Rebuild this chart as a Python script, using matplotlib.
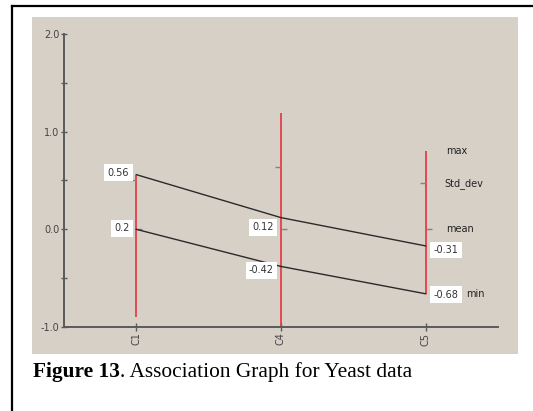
import matplotlib
matplotlib.use('Agg')
import matplotlib.pyplot as plt
from matplotlib.patches import Rectangle
from matplotlib.lines import Line2D

# ---- data ----
categories = ['C1', 'C4', 'C5']
upper_values = [0.56, 0.12, -0.17]
upper_labels = ['0.56', '0.12', '-0.31']
lower_values = [0.0, -0.38, -0.66]
lower_labels = ['0.2', '-0.42', '-0.68']
range_max = [0.56, 1.19, 0.80]
range_min = [-0.90, -1.0, -0.66]
std_marks = [0.50, 0.64, 0.47]
mean_marks = [0.0, 0.0, 0.0]
legend_labels = ['max', 'Std_dev', 'mean', 'min']
yticks = [-1.0, 0.0, 1.0, 2.0]
ytick_labels = ['-1.0', '0.0', '1.0', '2.0']
minor_yticks = [-0.5, 0.5, 1.5]
caption_bold = 'Figure 13'
caption_rest = '. Association Graph for Yeast data'

# ---- layout helpers (pixels) ----
W, H = 533, 411
fig = plt.figure(figsize=(W / 100, H / 100), dpi=100)
fig.patch.set_facecolor('white')


def fx(px):
    return px / W


def fy(py):
    return 1 - py / H


GRAY = '#d6d0c7'
RED = '#e8323f'
AX = '#5a5a5a'

# panel background
fig.add_artist(Rectangle((fx(32), fy(354)), (518 - 32) / W, (354 - 17) / H,
                         transform=fig.transFigure, facecolor=GRAY,
                         edgecolor='none', zorder=0))
# outer border (left and top)
fig.add_artist(Line2D([fx(12), fx(12)], [fy(6), 0], transform=fig.transFigure,
                      color='black', lw=1.6))
fig.add_artist(Line2D([fx(12), 1], [fy(6), fy(6)], transform=fig.transFigure,
                      color='black', lw=1.6))

ax = fig.add_axes([fx(64), fy(327), (498 - 64) / W, (327 - 34) / H])
ax.set_facecolor('none')
ax.set_xlim(-0.5, 2.5)
ax.set_ylim(-1.0, 2.0)
for s in ['top', 'right']:
    ax.spines[s].set_visible(False)
for s in ['left', 'bottom']:
    ax.spines[s].set_color(AX)
    ax.spines[s].set_linewidth(1.4)

ax.set_yticks(yticks, ytick_labels)
ax.set_yticks(minor_yticks, minor=True)
ax.tick_params(axis='y', which='major', direction='inout', length=5, width=1,
               color=AX, labelcolor='#444444', labelsize=7, pad=1)
ax.tick_params(axis='y', which='minor', direction='inout', length=4, width=1,
               color=AX)
x = list(range(len(categories)))
ax.set_xticks(x, categories, rotation=90)
ax.tick_params(axis='x', direction='inout', length=6, width=1, color=AX,
               labelcolor='#444444', labelsize=7, pad=1)

# range lines
ax.vlines(x, range_min, range_max, color=RED, lw=1.2, zorder=2)
# std / mean tick marks
ax.plot(x, std_marks, linestyle='none', marker=0, markersize=4.5,
        markeredgewidth=1, color='#8a7f7a', zorder=3)
ax.plot(x, mean_marks, linestyle='none', marker=1, markersize=4.5,
        markeredgewidth=1, color='#8a7f7a', zorder=3)

# connecting lines
ax.plot(x, upper_values, color='#2a2a2a', lw=1.0, zorder=3)
ax.plot(x, lower_values, color='#2a2a2a', lw=1.0, zorder=3)

box = dict(boxstyle='square,pad=0.35', fc='white', ec='none')
upper_dy = [2, -9.5, -4]
lower_dy = [1, -4, -1]
for i in x:
    ha = 'left' if i == 2 else 'right'
    dx = 8 if i == 2 else -7
    ax.annotate(upper_labels[i], (i, upper_values[i]), xytext=(dx, upper_dy[i]),
                textcoords='offset pixels', ha=ha, va='center', fontsize=7,
                color='#333333', bbox=box, zorder=5)
    ax.annotate(lower_labels[i], (i, lower_values[i]), xytext=(dx, lower_dy[i]),
                textcoords='offset pixels', ha=ha, va='center', fontsize=7,
                color='#333333', bbox=box, zorder=5)

# legend-like labels beside the last range line
legend_y = [range_max[2], std_marks[2], mean_marks[2], range_min[2]]
legend_dx = [20, 19, 20, 40]
for lab, yy, ddx in zip(legend_labels, legend_y, legend_dx):
    ax.annotate(lab, (2, yy), xytext=(ddx, 0), textcoords='offset pixels',
                ha='left', va='center', fontsize=7, color='#222222')

# caption
t1 = fig.text(fx(33), fy(377), caption_bold, family='Liberation Serif',
              fontweight='bold', fontsize=15.4, va='baseline', ha='left')
fig.canvas.draw()
bb = t1.get_window_extent()
fig.text(bb.x1 / W, fy(377), caption_rest, family='Liberation Serif',
         fontsize=15.4, va='baseline', ha='left')

fig.savefig('out.png', dpi=100)
